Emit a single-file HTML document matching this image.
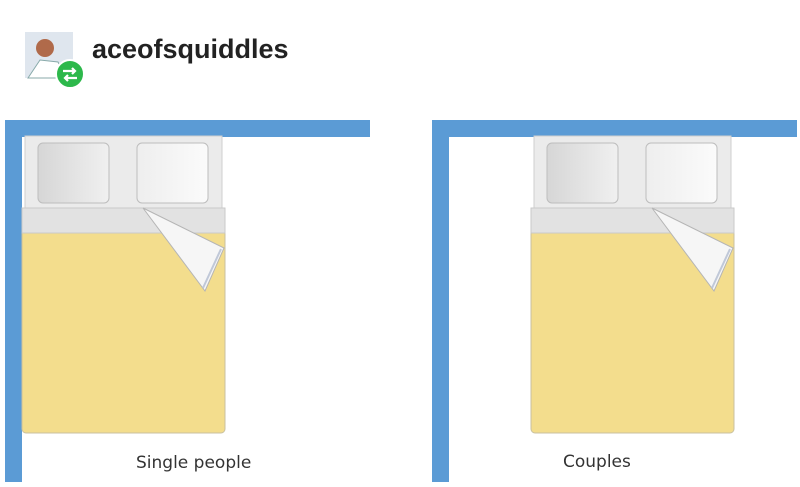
<!DOCTYPE html>
<html><head><style>
body{margin:0;width:800px;height:487px;background:#fff;position:relative;overflow:hidden;font-family:"Liberation Sans",sans-serif}
.t{position:absolute;font-size:27px;font-weight:bold;color:#222;left:92px;top:34px}
.lab{position:absolute;font-size:17px;color:#333;font-family:"DejaVu Sans",sans-serif}
</style></head><body>
<svg width="800" height="487" style="position:absolute;left:0;top:0">
<defs>
<linearGradient id="pg" x1="0" x2="1"><stop offset="0" stop-color="#d6d6d6"/><stop offset="1" stop-color="#f0f0f0"/></linearGradient>
<linearGradient id="pg2" x1="0" x2="1"><stop offset="0" stop-color="#eeeeee"/><stop offset="1" stop-color="#fbfbfb"/></linearGradient>
<g id="bed">
<rect x="3" y="0" width="197" height="72" fill="#ebebeb" stroke="#cfcfcf"/>
<rect x="0" y="72" width="203" height="225" rx="4" fill="#f3dd8d" stroke="#c8c0a0"/>
<rect x="0" y="72" width="203" height="25" fill="#e2e2e2" stroke="#c9c9c9"/>
<rect x="16" y="7" width="71" height="60" rx="5" fill="url(#pg)" stroke="#bdbdbd"/>
<rect x="115" y="7" width="71" height="60" rx="5" fill="url(#pg2)" stroke="#bdbdbd"/>
<polygon points="121,72 202,112 183,155" fill="#f6f6f6" stroke="#b5b5b5"/>
<line x1="199" y1="113" x2="181" y2="152" stroke="#c0c8d8" stroke-width="2"/>
</g>
</defs>
<rect x="5" y="120" width="365" height="17" fill="#5b9bd5"/>
<rect x="5" y="120" width="17" height="362" fill="#5b9bd5"/>
<rect x="432" y="120" width="365" height="17" fill="#5b9bd5"/>
<rect x="432" y="120" width="17" height="362" fill="#5b9bd5"/>
<use href="#bed" x="22" y="136"/>
<use href="#bed" x="531" y="136"/>
<rect x="25" y="32" width="48" height="46" fill="#dfe6ee"/>
<circle cx="45" cy="48" r="9" fill="#b06a4a"/>
<path d="M28 78 L40 60 L58 62 L66 78Z" fill="#fff" stroke="#8aa"/>
<circle cx="70" cy="74" r="14" fill="#2db84b" stroke="#fff" stroke-width="2"/>
<path d="M63 71 h12 M72 68 l3 3 -3 3 M77 78 h-12 M68 75 l-3 3 3 3" stroke="#fff" stroke-width="2.2" fill="none"/>
</svg>
<div class="t">aceofsquiddles</div>
<div class="lab" style="left:136px;top:453px">Single people</div>
<div class="lab" style="left:563px;top:452px">Couples</div>
</body></html>
